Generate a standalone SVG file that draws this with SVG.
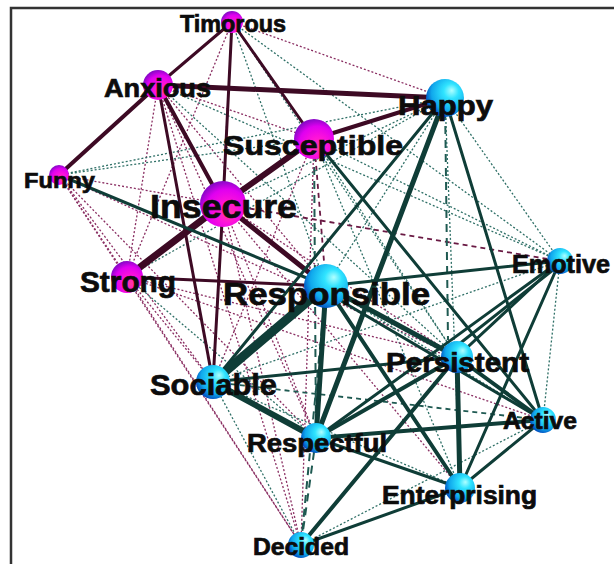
<svg xmlns="http://www.w3.org/2000/svg" width="614" height="564" viewBox="0 0 614 564">
<defs>
<radialGradient id="gp" cx="58%" cy="62%" r="62%" fx="62%" fy="72%">
<stop offset="0" stop-color="#ff3c9c"/>
<stop offset="0.35" stop-color="#ff14d8"/>
<stop offset="0.75" stop-color="#e000f0"/>
<stop offset="1" stop-color="#8a08c8"/>
</radialGradient>
<radialGradient id="gc" cx="62%" cy="38%" r="65%" fx="68%" fy="30%">
<stop offset="0" stop-color="#b0ffff"/>
<stop offset="0.3" stop-color="#30e4ff"/>
<stop offset="0.75" stop-color="#10a8ec"/>
<stop offset="1" stop-color="#0050c0"/>
</radialGradient>
<style>
.m{stroke:#3d0a24;fill:none;stroke-linecap:round}
.t{stroke:#0f3d37;fill:none;stroke-linecap:round}
.md{stroke:#8a2e62;stroke-width:1.3;stroke-dasharray:2 2;fill:none}
.td{stroke:#2f7067;stroke-width:1.3;stroke-dasharray:2 2;fill:none}
.tl{stroke:#1f5a52;stroke-width:2;stroke-dasharray:8 6;fill:none}
.tm{stroke:#1f5a52;stroke-width:1.8;stroke-dasharray:5 4;fill:none}
.ml{stroke:#6a1a44;stroke-width:1.8;stroke-dasharray:5 4;fill:none}
.lbl{font-family:"Liberation Sans",Arial,sans-serif;font-weight:bold;fill:#0c0c0c;stroke:#0c0c0c;stroke-width:0.7}
.p{fill:url(#gp)}
.c{fill:url(#gc)}
</style>
</defs>
<rect x="0" y="0" width="614" height="564" fill="#fff"/>
<rect x="11" y="8" width="620" height="580" fill="none" stroke="#333" stroke-width="2.5"/>
<g id="connectors">
<line class="md" x1="232" y1="22" x2="445" y2="98"/>
<line class="td" x1="232" y1="22" x2="560" y2="261"/>
<line class="td" x1="232" y1="22" x2="457" y2="357"/>
<line class="md" x1="232" y1="22" x2="127" y2="277"/>
<line class="md" x1="232" y1="22" x2="213" y2="382"/>
<line class="td" x1="232" y1="22" x2="326" y2="286"/>
<line class="md" x1="158" y1="85" x2="314" y2="139"/>
<line class="td" x1="158" y1="85" x2="560" y2="261"/>
<line class="md" x1="158" y1="85" x2="326" y2="286"/>
<line class="md" x1="158" y1="85" x2="127" y2="277"/>
<line class="md" x1="158" y1="85" x2="301" y2="545"/>
<line class="md" x1="158" y1="85" x2="316" y2="438"/>
<line class="td" x1="158" y1="85" x2="457" y2="357"/>
<line class="td" x1="59" y1="175" x2="445" y2="98"/>
<line class="td" x1="59" y1="175" x2="314" y2="139"/>
<line class="md" x1="59" y1="175" x2="223" y2="204"/>
<line class="md" x1="59" y1="175" x2="127" y2="277"/>
<line class="md" x1="59" y1="175" x2="301" y2="545"/>
<line class="md" x1="59" y1="175" x2="213" y2="382"/>
<line class="md" x1="59" y1="175" x2="316" y2="438"/>
<line class="md" x1="59" y1="175" x2="457" y2="357"/>
<line class="tl" x1="314" y1="139" x2="316" y2="438"/>
<line class="ml" x1="314" y1="139" x2="326" y2="286"/>
<line class="md" x1="314" y1="139" x2="213" y2="382"/>
<line class="td" x1="314" y1="139" x2="457" y2="357"/>
<line class="td" x1="314" y1="139" x2="560" y2="261"/>
<line class="td" x1="314" y1="139" x2="460" y2="488"/>
<line class="md" x1="314" y1="139" x2="301" y2="545"/>
<line class="td" x1="223" y1="204" x2="445" y2="98"/>
<line class="ml" x1="223" y1="204" x2="560" y2="261"/>
<line class="md" x1="223" y1="204" x2="457" y2="357"/>
<line class="md" x1="223" y1="204" x2="316" y2="438"/>
<line class="md" x1="223" y1="204" x2="301" y2="545"/>
<line class="md" x1="223" y1="204" x2="460" y2="488"/>
<line class="md" x1="127" y1="277" x2="213" y2="382"/>
<line class="md" x1="127" y1="277" x2="301" y2="545"/>
<line class="td" x1="127" y1="277" x2="316" y2="438"/>
<line class="md" x1="127" y1="277" x2="457" y2="357"/>
<line class="td" x1="127" y1="277" x2="445" y2="98"/>
<line class="md" x1="127" y1="277" x2="543" y2="420"/>
<line class="td" x1="445" y1="98" x2="560" y2="261"/>
<line class="tl" x1="445" y1="98" x2="448" y2="340"/>
<line class="td" x1="445" y1="98" x2="326" y2="286"/>
<line class="td" x1="445" y1="98" x2="460" y2="488"/>
<line class="tl" x1="326" y1="286" x2="301" y2="545"/>
<line class="td" x1="326" y1="286" x2="543" y2="420"/>
<line class="td" x1="213" y1="382" x2="301" y2="545"/>
<line class="tm" x1="213" y1="382" x2="543" y2="420"/>
<line class="td" x1="213" y1="382" x2="460" y2="488"/>
<line class="tl" x1="316" y1="438" x2="301" y2="545"/>
<line class="td" x1="560" y1="261" x2="543" y2="420"/>
<line class="td" x1="301" y1="545" x2="543" y2="420"/>
<line class="td" x1="301" y1="545" x2="460" y2="488"/>
<line class="td" x1="213" y1="382" x2="560" y2="261"/>
<line class="m" stroke-width="3" x1="232" y1="22" x2="158" y2="85"/>
<line class="m" stroke-width="3" x1="232" y1="22" x2="223" y2="204"/>
<line class="m" stroke-width="3" x1="232" y1="22" x2="314" y2="139"/>
<line class="m" stroke-width="4" x1="158" y1="85" x2="59" y2="175"/>
<line class="m" stroke-width="5" x1="158" y1="85" x2="445" y2="98"/>
<line class="m" stroke-width="4" x1="158" y1="85" x2="223" y2="204"/>
<line class="m" stroke-width="3" x1="158" y1="85" x2="213" y2="382"/>
<line class="m" stroke-width="6" x1="223" y1="204" x2="314" y2="139"/>
<line class="m" stroke-width="7" x1="223" y1="204" x2="127" y2="277"/>
<line class="m" stroke-width="5" x1="223" y1="204" x2="326" y2="286"/>
<line class="m" stroke-width="3" x1="223" y1="204" x2="213" y2="382"/>
<line class="m" stroke-width="4" x1="314" y1="139" x2="445" y2="98"/>
<line class="m" stroke-width="3" x1="127" y1="277" x2="326" y2="286"/>
<line class="t" stroke-width="3" x1="59" y1="175" x2="326" y2="286"/>
<line class="t" stroke-width="3" x1="314" y1="139" x2="543" y2="420"/>
<line class="t" stroke-width="3" x1="445" y1="98" x2="213" y2="382"/>
<line class="t" stroke-width="5" x1="445" y1="98" x2="316" y2="438"/>
<line class="t" stroke-width="3" x1="445" y1="98" x2="543" y2="420"/>
<line class="t" stroke-width="3" x1="326" y1="286" x2="560" y2="261"/>
<line class="t" stroke-width="5" x1="326" y1="286" x2="457" y2="357"/>
<line class="t" stroke-width="3" x1="326" y1="292" x2="543" y2="420"/>
<line class="t" stroke-width="9" x1="326" y1="286" x2="213" y2="382"/>
<line class="t" stroke-width="5" x1="326" y1="286" x2="316" y2="438"/>
<line class="t" stroke-width="4" x1="326" y1="286" x2="460" y2="488"/>
<line class="t" stroke-width="6" x1="213" y1="382" x2="316" y2="438"/>
<line class="t" stroke-width="3" x1="213" y1="382" x2="457" y2="357"/>
<line class="t" stroke-width="4" x1="316" y1="438" x2="457" y2="357"/>
<line class="t" stroke-width="4" x1="316" y1="438" x2="543" y2="420"/>
<line class="t" stroke-width="3" x1="316" y1="438" x2="560" y2="261"/>
<line class="t" stroke-width="3" x1="316" y1="438" x2="460" y2="488"/>
<line class="t" stroke-width="3" x1="457" y1="357" x2="560" y2="261"/>
<line class="t" stroke-width="3" x1="449" y1="352" x2="558" y2="266"/>
<line class="t" stroke-width="4" x1="457" y1="357" x2="543" y2="420"/>
<line class="t" stroke-width="5" x1="457" y1="357" x2="460" y2="488"/>
<line class="t" stroke-width="3" x1="560" y1="261" x2="460" y2="488"/>
<line class="t" stroke-width="3" x1="543" y1="420" x2="460" y2="488"/>
<line class="t" stroke-width="4" x1="301" y1="545" x2="457" y2="357"/>
<line class="t" stroke-width="3" x1="301" y1="545" x2="460" y2="488"/>
</g>
<g id="node-timorous"><circle class="p" cx="232" cy="22" r="11"/><text class="lbl" x="180" y="32" font-size="23" textLength="106" lengthAdjust="spacingAndGlyphs">Timorous</text></g>
<g id="node-anxious"><circle class="p" cx="158" cy="85" r="15"/><text class="lbl" x="104" y="97" font-size="26" textLength="107" lengthAdjust="spacingAndGlyphs">Anxious</text></g>
<g id="node-funny"><circle class="p" cx="59" cy="175" r="10"/><text class="lbl" x="24" y="188" font-size="22" textLength="71" lengthAdjust="spacingAndGlyphs">Funny</text></g>
<g id="node-susceptible"><circle class="p" cx="314" cy="139" r="20"/><text class="lbl" x="223" y="155" font-size="28" textLength="180" lengthAdjust="spacingAndGlyphs">Susceptible</text></g>
<g id="node-insecure"><circle class="p" cx="223" cy="204" r="23"/><text class="lbl" x="150" y="218" font-size="34" textLength="147" lengthAdjust="spacingAndGlyphs">Insecure</text></g>
<g id="node-strong"><circle class="p" cx="127" cy="277" r="16"/><text class="lbl" x="80" y="292" font-size="29" textLength="96" lengthAdjust="spacingAndGlyphs">Strong</text></g>
<g id="node-happy"><circle class="c" cx="445" cy="98" r="19"/><text class="lbl" x="398" y="115" font-size="28" textLength="95" lengthAdjust="spacingAndGlyphs">Happy</text></g>
<g id="node-responsible"><circle class="c" cx="326" cy="286" r="22"/><text class="lbl" x="223" y="305" font-size="31" textLength="207" lengthAdjust="spacingAndGlyphs">Responsible</text></g>
<g id="node-emotive"><circle class="c" cx="560" cy="261" r="13"/><text class="lbl" x="512" y="273" font-size="25" textLength="98" lengthAdjust="spacingAndGlyphs">Emotive</text></g>
<g id="node-persistent"><circle class="c" cx="457" cy="357" r="16"/><text class="lbl" x="386" y="372" font-size="27" textLength="143" lengthAdjust="spacingAndGlyphs">Persistent</text></g>
<g id="node-sociable"><circle class="c" cx="213" cy="382" r="17"/><text class="lbl" x="150" y="395" font-size="29" textLength="127" lengthAdjust="spacingAndGlyphs">Sociable</text></g>
<g id="node-respectful"><circle class="c" cx="316" cy="438" r="15"/><text class="lbl" x="247" y="452" font-size="25" textLength="140" lengthAdjust="spacingAndGlyphs">Respectful</text></g>
<g id="node-active"><circle class="c" cx="543" cy="420" r="13"/><text class="lbl" x="503" y="429" font-size="23" textLength="74" lengthAdjust="spacingAndGlyphs">Active</text></g>
<g id="node-enterprising"><circle class="c" cx="460" cy="488" r="15"/><text class="lbl" x="382" y="504" font-size="25" textLength="155" lengthAdjust="spacingAndGlyphs">Enterprising</text></g>
<g id="node-decided"><circle class="c" cx="301" cy="545" r="13"/><text class="lbl" x="253" y="555" font-size="23" textLength="96" lengthAdjust="spacingAndGlyphs">Decided</text></g>
</svg>
